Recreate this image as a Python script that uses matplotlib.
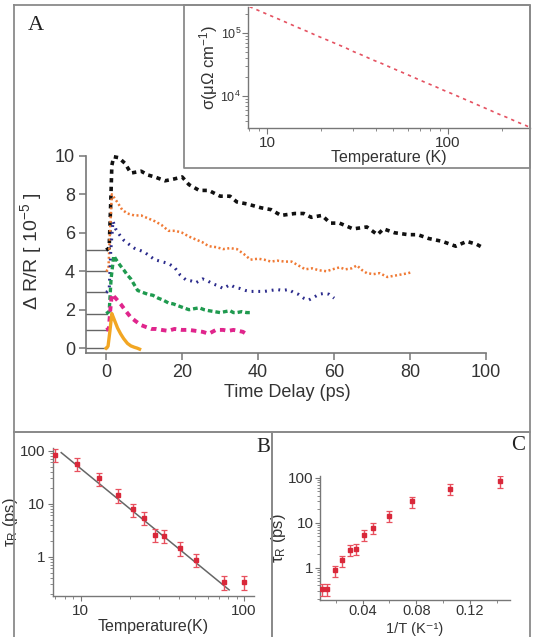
import matplotlib
matplotlib.use("Agg")
import matplotlib.pyplot as plt
from matplotlib.lines import Line2D
from matplotlib.ticker import LogLocator, NullFormatter, FixedLocator
import numpy as np

plt.rcParams['font.family'] = ['Liberation Sans', 'DejaVu Sans']
plt.rcParams['mathtext.fontset'] = 'custom'
plt.rcParams['mathtext.rm'] = 'Liberation Sans'
plt.rcParams['mathtext.it'] = 'Liberation Sans:italic'

# ---------------- data ----------------
black_t = [0, 0.8, 1.2, 1.5, 2.0, 3.3, 5, 6.5, 9.2, 11, 12.8, 15.5, 18, 20, 21.8, 24.5, 27, 30, 32.6, 34.4,
           37, 40.7, 43.4, 46, 49.7, 52, 54, 56.8, 59, 61.4, 65, 68.6, 71.4, 73, 75.9, 79.5, 82, 84.9, 88.5, 92,
           94.9, 97.5, 99.4]
black_y = [5.1, 5.2, 7.5, 9.5, 9.95, 9.9, 9.6, 9.1, 9.2, 9.0, 8.9, 8.7, 8.8, 8.9, 8.5, 8.2, 8.2, 7.9, 7.9, 7.6,
           7.5, 7.3, 7.2, 6.9, 7.0, 7.0, 6.8, 6.9, 6.5, 6.5, 6.2, 6.3, 5.9, 6.2, 6.0, 5.9, 5.9, 5.7, 5.55, 5.3,
           5.55, 5.4, 5.2]

orange_t = [0, 0.6, 1.0, 1.5, 2.9, 4.2, 5.6, 7.4, 9.2, 11, 12.8, 14.6, 16.4, 18.2, 20, 21.8, 23.6, 25.4, 27, 29,
            30.8, 32.6, 34.4, 36.2, 38, 40, 41.6, 43.4, 45, 47, 48.8, 50.6, 52.4, 54.2, 56, 58, 59.6, 61.4, 63,
            64.6, 66, 67.4, 68.6, 70.4, 72, 74, 75.4, 76.8, 78.2, 79.5, 80.4]
orange_y = [4.0, 4.1, 6.0, 8.0, 7.6, 7.2, 7.0, 6.9, 6.9, 6.75, 6.6, 6.4, 6.1, 6.1, 6.0, 5.8, 5.65, 5.5, 5.3, 5.25,
            5.15, 5.2, 5.15, 4.9, 4.6, 4.65, 4.6, 4.5, 4.55, 4.5, 4.5, 4.3, 4.1, 4.15, 4.05, 4.0, 4.1, 4.2, 4.1,
            4.15, 4.3, 4.05, 3.9, 3.85, 3.9, 3.7, 3.75, 3.8, 3.85, 3.9, 3.95]

blue_t = [0, 0.8, 1.2, 1.8, 2.5, 3.5, 4.7, 6, 7.4, 8.7, 10, 11.4, 12.8, 14.6, 16.4, 18, 19.5, 21, 22.3, 23.6,
          25.4, 26.7, 28, 29.4, 30.8, 32.6, 34, 35.3, 36.7, 38, 40, 41.6, 43.3, 45, 46.5, 48, 49.3, 50.6, 52,
          53.3, 54.7, 56, 57.4, 58.7, 60]
blue_y = [2.9, 3.0, 5.0, 6.6, 6.2, 5.9, 5.6, 5.4, 5.2, 5.1, 5.0, 4.8, 4.6, 4.5, 4.4, 4.2, 3.8, 3.55, 3.5, 3.4,
          3.6, 3.5, 3.35, 3.25, 3.1, 3.3, 3.15, 3.1, 3.0, 2.95, 2.95, 2.95, 3.0, 3.05, 3.0, 3.05, 2.9, 2.8, 2.6,
          2.5, 2.65, 2.8, 2.85, 2.8, 2.6]

green_t = [0, 0.8, 1.3, 2.0, 2.8, 3.7, 4.7, 5.6, 6.5, 7.4, 8.3, 9.6, 11, 12.3, 13.7, 15, 16.4, 17.7, 19, 20.4,
           21.8, 23.1, 24.5, 25.8, 27, 28.5, 30, 31.3, 32.6, 33.5, 34.4, 35.7, 37, 38]
green_y = [1.8, 1.9, 3.6, 4.8, 4.55, 4.3, 4.05, 3.8, 3.6, 3.3, 3.0, 2.9, 2.8, 2.75, 2.6, 2.5, 2.35, 2.3, 2.2, 2.1,
           2.0, 2.05, 2.1, 2.0, 1.95, 1.9, 1.85, 1.9, 1.95, 1.85, 1.85, 1.9, 1.85, 1.85]

magenta_t = [0, 0.7, 1.1, 1.5, 2.5, 3.8, 5.1, 6.5, 7.8, 9.2, 10.5, 11.9, 13.2, 14.6, 16.3, 18, 19.9, 21.8, 23.6,
             25.4, 27, 28.9, 30.8, 32.1, 33.5, 34.8, 36, 36.8]
magenta_y = [0.95, 1.0, 2.0, 2.8, 2.6, 2.3, 1.95, 1.6, 1.4, 1.2, 1.1, 1.0, 1.0, 0.95, 0.9, 1.0, 0.95, 0.95, 0.9,
             0.85, 0.75, 0.95, 0.95, 0.9, 0.95, 0.9, 0.85, 0.75]

yellow_t = [0, 0.5, 1.0, 1.5, 2.0, 2.5, 3.0, 3.8, 4.6, 5.6, 6.5, 7.4, 8.2, 8.8]
yellow_y = [0.0, 0.1, 0.9, 1.8, 1.55, 1.3, 1.05, 0.75, 0.5, 0.25, 0.12, 0.05, 0.0, -0.05]

baselines = [5.1, 4.0, 2.9, 1.8, 0.95, 0.0]

inset_T = [8, 9, 10, 11, 12, 13.5, 15, 17, 19, 21, 24, 27, 30, 34, 38, 43, 48, 54, 60, 68, 76, 85, 95,
           107, 120, 135, 150, 170, 190, 215, 240, 270, 285]
inset_sigma = [2.64e5, 2.28e5, 2.0e5, 1.78e5, 1.60e5, 1.38e5, 1.21e5, 1.04e5, 9.0e4, 8.0e4, 6.8e4, 5.9e4,
               5.1e4, 4.4e4, 3.8e4, 3.3e4, 2.87e4, 2.48e4, 2.18e4, 1.86e4, 1.62e4, 1.42e4, 1.23e4, 1.07e4,
               9.25e3, 8.0e3, 7.0e3, 6.0e3, 5.2e3, 4.5e3, 3.9e3, 3.4e3, 3.16e3]

tau_T = [7, 9.5, 13, 16.8, 20.8, 24.4, 28.5, 32.5, 40.5, 50.6, 75, 100]
tau_R = [84, 57, 30, 14.5, 7.8, 5.4, 2.6, 2.5, 1.45, 0.87, 0.33, 0.33]
tau_err_frac = 0.28
fit_T = [7.6, 81]
fit_tau = [92, 0.235]

W, H = 534, 637
fig = plt.figure(figsize=(W / 100, H / 100), dpi=100)

def fx(px):
    return px / W

def fy(py):
    return 1 - py / H

def ax_rect(l, r, t, b):
    return [fx(l), fy(b), (r - l) / W, (b - t) / H]

frame_col = '#8a8a8a'
spine_col = '#777777'
text_col = '#333333'

def frame(l, t, r, b):
    xs = [fx(l), fx(r), fx(r), fx(l), fx(l)]
    ys = [fy(t), fy(t), fy(b), fy(b), fy(t)]
    fig.add_artist(Line2D(xs, ys, transform=fig.transFigure, color=frame_col, lw=1.3))

frame(14, 5, 530, 432)
frame(184, 5, 530, 168)
frame(14, 432, 272, 640)
frame(272, 432, 530, 640)

# ---------------- Panel A main ----------------
ax = fig.add_axes(ax_rect(86, 488, 150, 353))
ax.set_xlim(-5.3, 100.5)
ax.set_ylim(-0.25, 10.3)
for s in ['top', 'right']:
    ax.spines[s].set_visible(False)
for s in ['left', 'bottom']:
    ax.spines[s].set_color(spine_col)
    ax.spines[s].set_linewidth(1.2)
ax.spines['left'].set_bounds(-0.25, 10)
ax.spines['bottom'].set_bounds(-5.3, 100)
ax.set_xticks([0, 20, 40, 60, 80, 100])
ax.set_yticks([0, 2, 4, 6, 8, 10])
ax.tick_params(direction='out', length=5, width=1.1, color=spine_col, labelsize=13,
               labelcolor=text_col, pad=3)

for b in baselines:
    ax.plot([-5.3, 0.3], [b, b], color='#666666', lw=1.0, zorder=1)

ax.plot(black_t, black_y, color='#111111', lw=2.6, ls=(0, (1.2, 1.2)), zorder=3)
ax.plot(orange_t, orange_y, color='#f07a35', lw=1.8, ls=(0, (0.8, 1.0)), zorder=3)
ax.plot(blue_t, blue_y, color='#2b2b8c', lw=2.2, ls=(0, (0.6, 1.6)), zorder=3)
ax.plot(green_t, green_y, color='#1f9a4f', lw=2.4, ls=(0, (1.4, 0.9)), zorder=3)
ax.plot(magenta_t, magenta_y, color='#e0258c', lw=2.8, ls=(0, (1.4, 1.2)), zorder=3)
ax.plot(yellow_t, yellow_y, color='#f2a623', lw=2.4, zorder=4)

ax.set_xlabel('Time Delay (ps)', fontsize=13, color=text_col, labelpad=2)
ax.set_ylabel('Δ R/R [ 10$^{-5}$ ]', fontsize=14, color=text_col)
ax.yaxis.set_label_coords(-0.105, 0.5)

fig.text(fx(36), fy(26), 'A', family='Liberation Serif', fontsize=16, ha='center', va='center',
         color='#222222')

# ---------------- Inset ----------------
axi = fig.add_axes(ax_rect(248, 530, 7, 128))
axi.set_xscale('log')
axi.set_yscale('log')
axi.set_xlim(7.85, 285)
axi.set_ylim(3.1e3, 2.6e5)
for s in ['top', 'right']:
    axi.spines[s].set_visible(False)
for s in ['left', 'bottom']:
    axi.spines[s].set_color(spine_col)
    axi.spines[s].set_linewidth(1.0)
axi.plot(inset_T, inset_sigma, color='#e03345', lw=1.2, ls=(0, (2, 2.5)), alpha=0.85)
axi.xaxis.set_major_locator(FixedLocator([10, 100]))
axi.xaxis.set_minor_locator(LogLocator(base=10, subs=np.arange(2, 10)))
axi.xaxis.set_minor_formatter(NullFormatter())
axi.set_xticklabels(['10', '100'])
axi.yaxis.set_major_locator(FixedLocator([1e4, 1e5]))
axi.yaxis.set_minor_locator(LogLocator(base=10, subs=np.arange(2, 10)))
axi.yaxis.set_minor_formatter(NullFormatter())
axi.set_yticklabels(['10$^4$', '10$^5$'])
axi.tick_params(axis='x', which='major', labelsize=11, direction='out', length=4, color=spine_col,
                labelcolor=text_col, pad=2)
axi.tick_params(axis='y', which='major', labelsize=9, direction='out', length=4, color=spine_col,
                labelcolor=text_col, pad=1)
axi.tick_params(which='minor', direction='out', length=2, color=spine_col)
axi.set_xlabel('Temperature (K)', fontsize=11.5, color=text_col, labelpad=0)
axi.set_ylabel('σ(μΩ cm$^{-1}$)', fontsize=12, color=text_col, labelpad=0)

# ---------------- Panel B ----------------
axb = fig.add_axes(ax_rect(52.7, 254, 447.5, 596))
axb.set_xscale('log')
axb.set_yscale('log')
axb.set_xlim(6.74, 115)
axb.set_ylim(0.18, 115)
for s in ['top', 'right']:
    axb.spines[s].set_visible(False)
for s in ['left', 'bottom']:
    axb.spines[s].set_color(spine_col)
    axb.spines[s].set_linewidth(1.0)
axb.plot(fit_T, fit_tau, color='#666666', lw=1.1, zorder=2)
errs = [t * tau_err_frac for t in tau_R]
axb.errorbar(tau_T, tau_R, yerr=errs, fmt='s', ms=3.2, color='#d9283a', ecolor='#e8505e',
             elinewidth=1.0, capsize=2, capthick=0.9, zorder=3)
axb.xaxis.set_major_locator(FixedLocator([10, 100]))
axb.xaxis.set_minor_locator(LogLocator(base=10, subs=np.arange(2, 10)))
axb.xaxis.set_minor_formatter(NullFormatter())
axb.yaxis.set_major_locator(FixedLocator([1, 10, 100]))
axb.yaxis.set_minor_locator(LogLocator(base=10, subs=np.arange(2, 10)))
axb.yaxis.set_minor_formatter(NullFormatter())
axb.set_xticklabels(['10', '100'])
axb.set_yticklabels(['1', '10', '100'])
axb.tick_params(which='major', labelsize=11, direction='out', length=3.5, color=spine_col,
                labelcolor=text_col, pad=2)
axb.tick_params(which='minor', direction='out', length=2, color=spine_col)
axb.set_xlabel('Temperature(K)', fontsize=11.5, color=text_col, labelpad=1)
axb.set_ylabel('τ$_\\mathrm{R}$ (ps)', fontsize=12, color=text_col, labelpad=0)
fig.text(fx(263), fy(447), 'B', family='Liberation Serif', fontsize=15, ha='center', va='center',
         color='#222222')

# ---------------- Panel C ----------------
axc = fig.add_axes(ax_rect(320, 510, 476, 599.5))
axc.set_yscale('log')
axc.set_xlim(0.0082, 0.150)
axc.set_ylim(0.195, 110)
for s in ['top', 'right']:
    axc.spines[s].set_visible(False)
for s in ['left', 'bottom']:
    axc.spines[s].set_color(spine_col)
    axc.spines[s].set_linewidth(1.0)
invT = [1.0 / t for t in tau_T]
axc.errorbar(invT, tau_R, yerr=errs, fmt='s', ms=3.2, color='#d9283a', ecolor='#e8505e',
             elinewidth=1.0, capsize=2, capthick=0.9, zorder=3)
axc.set_xticks([0.04, 0.08, 0.12])
axc.set_xticklabels(['0.04', '0.08', '0.12'])
axc.set_xticks([0.02, 0.06, 0.10, 0.14], minor=True)
axc.yaxis.set_major_locator(FixedLocator([1, 10, 100]))
axc.yaxis.set_minor_locator(LogLocator(base=10, subs=np.arange(2, 10)))
axc.yaxis.set_minor_formatter(NullFormatter())
axc.set_yticklabels(['1', '10', '100'])
axc.tick_params(axis='x', which='major', labelsize=10.5, direction='out', length=3, color=spine_col,
                labelcolor=text_col, pad=0.5)
axc.tick_params(axis='y', which='major', labelsize=11, direction='out', length=3.5, color=spine_col,
                labelcolor=text_col, pad=1)
axc.tick_params(which='minor', direction='out', length=2, color=spine_col)
axc.set_ylabel('τ$_\\mathrm{R}$ (ps)', fontsize=12, color=text_col, labelpad=0)
fig.text(fx(415), fy(636), '1/T (K⁻¹)', fontsize=10.5, color=text_col, ha='center', va='bottom')
fig.text(fx(518), fy(446), 'C', family='Liberation Serif', fontsize=15, ha='center', va='center',
         color='#222222')

fig.savefig('out.png', dpi=100)
